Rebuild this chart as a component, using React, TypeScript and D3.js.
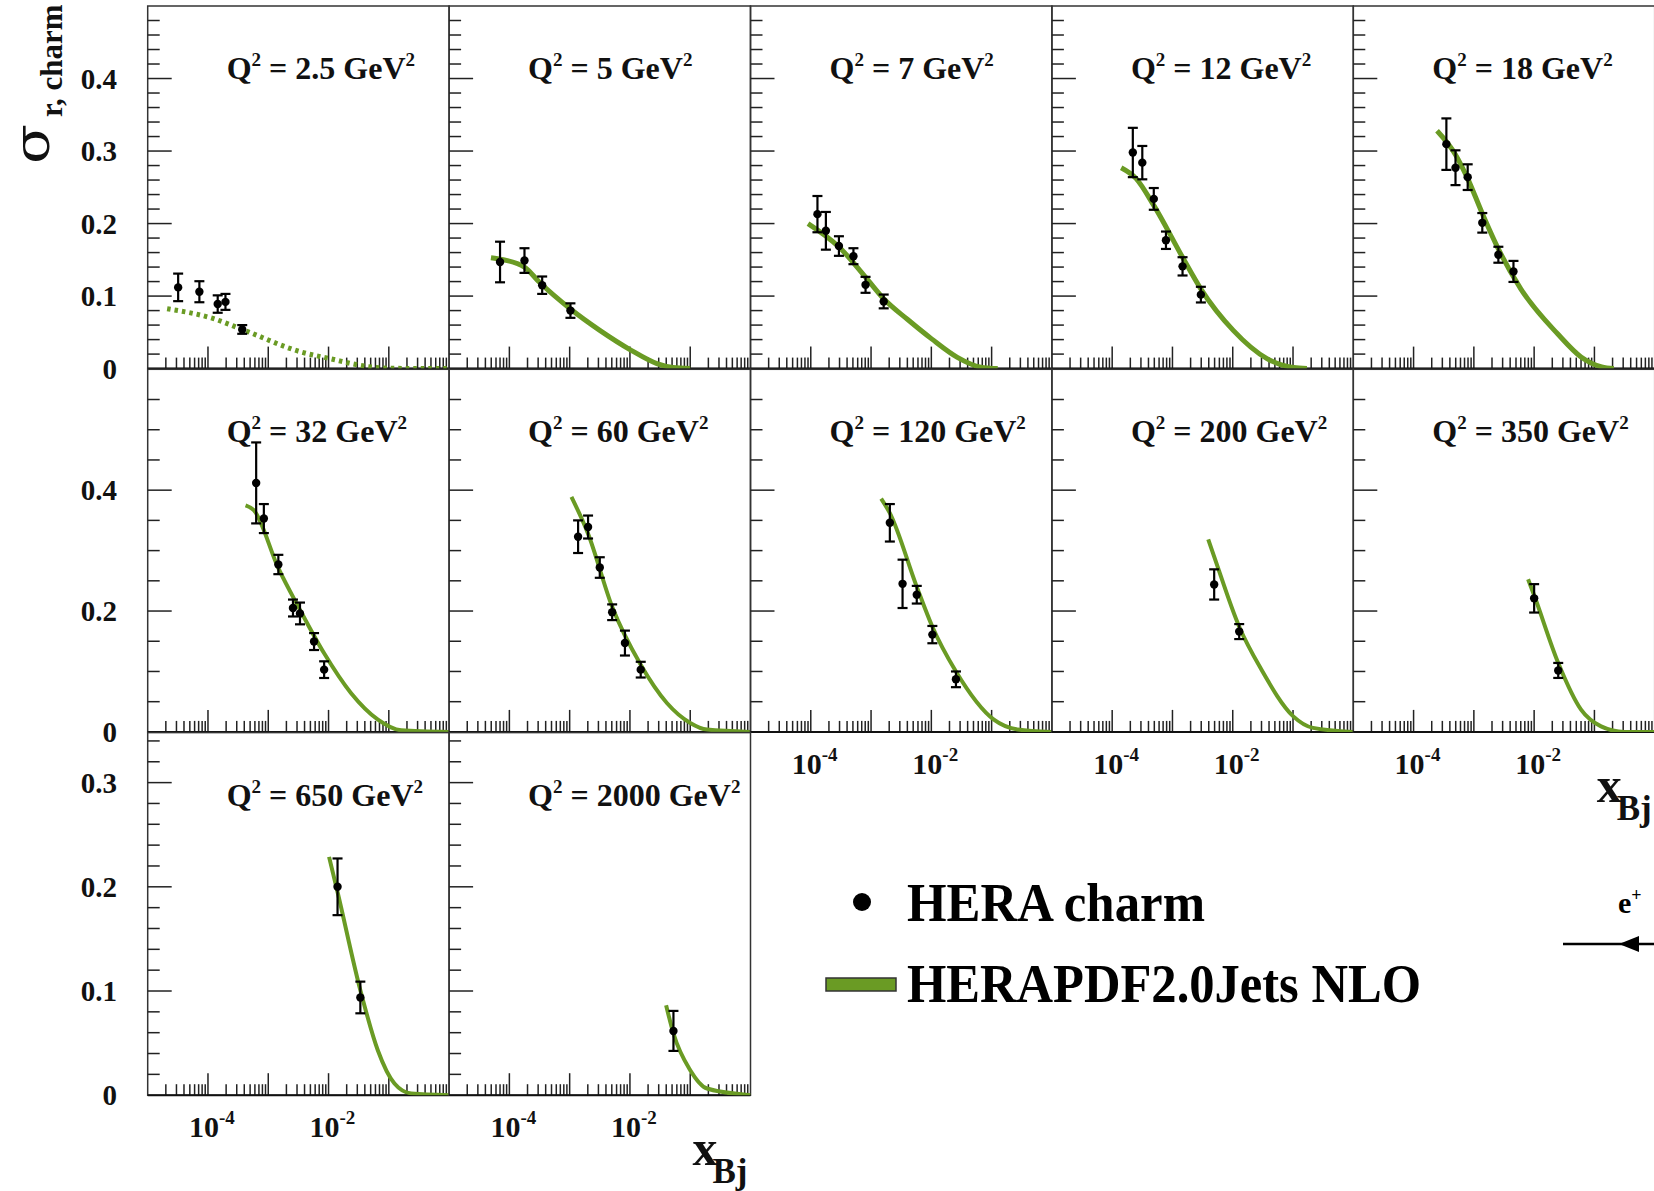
import * as d3 from "d3";
import React, { useEffect, useRef } from "react";

const W = 1654;
const H = 1191;

const q2Labels = ["2.5", "5", "7", "12", "18", "32", "60", "120", "200", "350", "650", "2000"];

// HERA charm points: [x_Bj, sigma_r, error]
const hera2p5 = [[3.2e-5, 0.112, 0.019], [7.2e-5, 0.106, 0.0145], [1.45e-4, 0.089, 0.012], [1.95e-4, 0.092, 0.011], [3.7e-4, 0.054, 0.006]];
const hera5 = [[7.0e-5, 0.147, 0.028], [1.78e-4, 0.149, 0.017], [3.5e-4, 0.115, 0.012], [1.03e-3, 0.080, 0.010]];
const hera7 = [[1.29e-4, 0.213, 0.025], [1.78e-4, 0.190, 0.026], [2.93e-4, 0.169, 0.0135], [5.1e-4, 0.155, 0.011], [8.1e-4, 0.1155, 0.011], [1.62e-3, 0.0926, 0.0095]];
const hera12 = [[2.2e-4, 0.298, 0.034], [3.16e-4, 0.284, 0.023], [4.9e-4, 0.234, 0.015], [7.8e-4, 0.177, 0.012], [1.47e-3, 0.141, 0.0126], [2.96e-3, 0.102, 0.0108]];
const hera18 = [[3.5e-4, 0.3095, 0.0355], [4.96e-4, 0.277, 0.024], [7.9e-4, 0.264, 0.0177], [1.38e-3, 0.201, 0.0135], [2.55e-3, 0.157, 0.011], [4.54e-3, 0.134, 0.0145]];
const hera32 = [[6.3e-4, 0.412, 0.067], [8.45e-4, 0.353, 0.024], [1.47e-3, 0.277, 0.016], [2.57e-3, 0.205, 0.014], [3.36e-3, 0.196, 0.018], [5.75e-3, 0.1495, 0.014], [8.45e-3, 0.103, 0.0138]];
const hera60 = [[1.38e-3, 0.323, 0.027], [2.02e-3, 0.339, 0.019], [3.16e-3, 0.272, 0.017], [5.07e-3, 0.198, 0.013], [8.26e-3, 0.147, 0.0206], [1.51e-2, 0.103, 0.013]];
const hera120 = [[2.05e-3, 0.346, 0.031], [3.33e-3, 0.245, 0.040], [5.73e-3, 0.227, 0.0146], [1.04e-2, 0.161, 0.0143], [2.56e-2, 0.087, 0.013]];
const hera200 = [[4.92e-3, 0.244, 0.025], [1.28e-2, 0.166, 0.0124]];
const hera350 = [[1.0e-2, 0.221, 0.0235], [2.51e-2, 0.1017, 0.0124]];
const hera650 = [[1.41e-2, 0.200, 0.0272], [3.37e-2, 0.0938, 0.0152]];
const hera2000 = [[5.27e-2, 0.0617, 0.0192]];

// HERAPDF2.0Jets NLO prediction: [x_Bj, sigma_r]
const nlo2p5 = [[2.1e-5, 0.0825], [1.24e-4, 0.0688], [3.7e-4, 0.054], [3.5e-3, 0.0229], [1.05e-2, 0.0138], [4.5e-2, 0.0028], [1.2e-1, 0.0004], [1, 0]];
const nlo5 = [[4.95e-5, 0.153], [7.0e-5, 0.151], [1.78e-4, 0.140], [3.16e-4, 0.119], [1.02e-3, 0.0825], [3.16e-3, 0.0527], [1.05e-2, 0.0252], [2.8e-2, 0.0069], [5.2e-2, 0.0014], [1.0e-1, 0]];
const nlo7 = [[9.0e-5, 0.200], [3.0e-4, 0.167], [8.1e-4, 0.126], [1.62e-3, 0.0963], [4.0e-3, 0.068], [1.01e-2, 0.041], [2.7e-2, 0.0155], [6.6e-2, 0.002], [1.26e-1, 0]];
const nlo12 = [[1.41e-4, 0.277], [2.5e-4, 0.262], [4.9e-4, 0.225], [1.47e-3, 0.1535], [2.95e-3, 0.110], [1.02e-2, 0.0527], [3.7e-2, 0.0138], [1.02e-1, 0.0014], [1.7e-1, 0]];
const nlo18 = [[2.45e-4, 0.328], [4.96e-4, 0.295], [7.9e-4, 0.262], [1.38e-3, 0.214], [2.55e-3, 0.165], [6.0e-3, 0.110], [2.45e-2, 0.048], [6.0e-2, 0.016], [1.32e-1, 0.0022], [2.1e-1, 0]];
const nlo32 = [[4.2e-4, 0.375], [5.75e-4, 0.367], [1.47e-3, 0.271], [3.36e-3, 0.202], [8.45e-3, 0.130], [2.35e-2, 0.0644], [6.6e-2, 0.0203], [1.6e-1, 0.0027], [1, 0]];
const nlo60 = [[1.07e-3, 0.389], [2.02e-3, 0.328], [5.07e-3, 0.207], [1.51e-2, 0.111], [4.1e-2, 0.0478], [1.0e-1, 0.0148], [1.9e-1, 0.0038], [1, 0]];
const nlo120 = [[1.47e-3, 0.386], [2.05e-3, 0.362], [5.73e-3, 0.240], [1.04e-2, 0.174], [2.56e-2, 0.100], [1.09e-1, 0.0203], [2.7e-1, 0.004], [1, 0]];
const nlo200 = [[3.92e-3, 0.3185], [4.92e-3, 0.29], [1.28e-2, 0.174], [3.0e-2, 0.1028], [1.01e-1, 0.0257], [2.15e-1, 0.0066], [1, 0]];
const nlo350 = [[7.94e-3, 0.2525], [1.0e-2, 0.226], [2.51e-2, 0.114], [6.0e-2, 0.0368], [1.29e-1, 0.0092], [3.16e-1, 0], [1, 0]];
const nlo650 = [[1.02e-2, 0.2287], [1.41e-2, 0.195], [3.37e-2, 0.1008], [6.56e-2, 0.0432], [1.24e-1, 0.0112], [2.36e-1, 0.0016], [1, 0]];
const nlo2000 = [[3.98e-2, 0.0864], [5.27e-2, 0.0592], [1.0e-1, 0.024], [1.9e-1, 0.0064], [1, 0]];

const heraSets = [hera2p5, hera5, hera7, hera12, hera18, hera32, hera60, hera120, hera200, hera350, hera650, hera2000];
const nloSets = [nlo2p5, nlo5, nlo7, nlo12, nlo18, nlo32, nlo60, nlo120, nlo200, nlo350, nlo650, nlo2000];

// per-row y axis
const rowMax = [0.5, 0.6, 0.348];
const rowMajor = [0.1, 0.2, 0.1];
const rowMinor = [0.02, 0.05, 0.02];

const xLabelTicks = [1e-4, 1e-2];
const xLabelExp = ["-4", "-2"];

const GREEN = "#6a9b24";
const FONT = "'Liberation Serif', 'Times New Roman', serif";

const CharmChart = () => {
  const ref = useRef<SVGSVGElement>(null);

  const x0 = 147.7;
  const pw = 301.4;
  const ph = 362.6;
  const rowTop = [6, 369.3, 732.6];

  useEffect(() => {
    const svg = d3.select(ref.current);
    svg.selectAll("*").remove();
    const defs = svg.append("defs");

    const panels = q2Labels.map((q2, i) => ({
      q2,
      pts: heraSets[i],
      curve: nloSets[i],
      row: Math.floor(i / 5),
      col: i % 5,
      dotted: i === 0,
      showX: i >= 7,
    }));

    panels.forEach((p, i) => {
      const left = x0 + p.col * pw;
      const right = left + pw;
      const top = rowTop[p.row];
      const bottom = top + ph;

      const x = d3.scaleLog().domain([1e-5, 1]).range([left, right]);
      const y = d3.scaleLinear().domain([0, rowMax[p.row]]).range([bottom, top]);

      defs.append("clipPath").attr("id", "clip" + i)
        .append("rect")
        .attr("x", left).attr("y", top - 4)
        .attr("width", pw).attr("height", ph + 4);

      const g = svg.append("g");

      // frame
      g.append("rect")
        .attr("x", left).attr("y", top)
        .attr("width", pw).attr("height", ph)
        .attr("fill", "none")
        .attr("stroke", "#333")
        .attr("stroke-width", 1.5);

      // y ticks
      const ymax = rowMax[p.row];
      d3.range(rowMinor[p.row], ymax - 1e-6, rowMinor[p.row]).forEach((v) => {
        const r = v / rowMajor[p.row];
        const major = Math.abs(r - Math.round(r)) < 1e-6;
        g.append("line")
          .attr("x1", left).attr("x2", left + (major ? 24 : 12))
          .attr("y1", y(v)).attr("y2", y(v))
          .attr("stroke", "#222").attr("stroke-width", 1.5);
      });

      // x ticks (log)
      for (let d = -5; d <= -1; d++) {
        for (let k = 1; k <= 9; k++) {
          const v = k * Math.pow(10, d);
          if (d === -5 && k === 1) continue;
          g.append("line")
            .attr("x1", x(v)).attr("x2", x(v))
            .attr("y1", bottom).attr("y2", bottom - (k === 1 ? 22 : 11))
            .attr("stroke", "#222").attr("stroke-width", 1.5);
        }
      }

      // bottom axis line
      g.append("line")
        .attr("x1", left).attr("x2", right)
        .attr("y1", bottom).attr("y2", bottom)
        .attr("stroke", "#111").attr("stroke-width", 2);

      // prediction curve
      const line = d3.line<number[]>()
        .x((d) => x(d[0]))
        .y((d) => y(d[1]))
        .curve(d3.curveMonotoneX);

      g.append("path")
        .datum(p.curve)
        .attr("clip-path", `url(#clip${i})`)
        .attr("d", line)
        .attr("fill", "none")
        .attr("stroke", GREEN)
        .attr("stroke-width", p.row === 0 ? 5 : 4)
        .attr("stroke-dasharray", p.dotted ? "3.5 4" : null);

      // error bars
      const eb = g.append("g").attr("stroke", "#000").attr("stroke-width", 2.2);
      p.pts.forEach((d) => {
        const cx = x(d[0]);
        const y1 = y(d[1] + d[2]);
        const y2 = y(d[1] - d[2]);
        eb.append("line").attr("x1", cx).attr("x2", cx).attr("y1", y1).attr("y2", y2);
        eb.append("line").attr("x1", cx - 5).attr("x2", cx + 5).attr("y1", y1).attr("y2", y1);
        eb.append("line").attr("x1", cx - 5).attr("x2", cx + 5).attr("y1", y2).attr("y2", y2);
      });

      g.selectAll("circle.pt")
        .data(p.pts)
        .enter()
        .append("circle")
        .attr("class", "pt")
        .attr("cx", (d) => x(d[0]))
        .attr("cy", (d) => y(d[1]))
        .attr("r", 4.2)
        .attr("fill", "#000");

      // Q2 title
      const t = g.append("text")
        .attr("x", left + 79)
        .attr("y", top + 73)
        .attr("font-family", FONT)
        .attr("font-weight", "bold")
        .attr("font-size", 32)
        .attr("fill", "#111");
      t.append("tspan").text("Q");
      t.append("tspan").attr("font-size", 19).attr("dy", -13).text("2");
      t.append("tspan").attr("dy", 13).text(` = ${p.q2} GeV`);
      t.append("tspan").attr("font-size", 19).attr("dy", -13).text("2");

      // x tick labels
      if (p.showX) {
        xLabelTicks.forEach((v, j) => {
          const lt = g.append("text")
            .attr("x", x(v) - 19)
            .attr("y", bottom + 42)
            .attr("font-family", FONT)
            .attr("font-weight", "bold")
            .attr("font-size", 30)
            .attr("fill", "#111");
          lt.append("tspan").text("10");
          lt.append("tspan").attr("font-size", 19).attr("dy", -13).text(xLabelExp[j]);
        });
      }

      // y tick labels
      if (p.col === 0) {
        d3.range(0, ymax - 1e-6, rowMajor[p.row]).forEach((v) => {
          g.append("text")
            .attr("x", 117)
            .attr("y", y(v))
            .attr("text-anchor", "end")
            .attr("dominant-baseline", "central")
            .attr("font-family", FONT)
            .attr("font-weight", "bold")
            .attr("font-size", 29)
            .attr("fill", "#111")
            .text(v === 0 ? "0" : d3.format(".1f")(v));
        });
      }
    });

    // x_Bj axis titles
    const xTitle = (right: number, bottom: number) => {
      svg.append("text")
        .attr("x", right - 58).attr("y", bottom + 70)
        .attr("font-family", FONT).attr("font-weight", "bold")
        .attr("font-size", 50).attr("fill", "#111")
        .text("x");
      svg.append("text")
        .attr("x", right - 38).attr("y", bottom + 88)
        .attr("font-family", FONT).attr("font-weight", "bold")
        .attr("font-size", 35).attr("fill", "#111")
        .text("Bj");
    };
    xTitle(x0 + 5 * pw, rowTop[1] + ph);
    xTitle(x0 + 2 * pw, rowTop[2] + ph);

    // y axis title
    svg.append("text")
      .attr("transform", "translate(49,164) rotate(-90)")
      .attr("font-family", "'DejaVu Serif', serif")
      .attr("font-size", 50).attr("fill", "#111")
      .attr("textLength", 40).attr("lengthAdjust", "spacingAndGlyphs")
      .text("σ");
    svg.append("text")
      .attr("transform", "translate(62,117) rotate(-90)")
      .attr("font-family", FONT).attr("font-weight", "bold")
      .attr("font-size", 31).attr("fill", "#111")
      .text("r, charm");

    // legend
    svg.append("circle").attr("cx", 862).attr("cy", 902).attr("r", 9).attr("fill", "#000");
    svg.append("text")
      .attr("x", 907).attr("y", 921)
      .attr("font-family", FONT).attr("font-weight", "bold")
      .attr("font-size", 54).attr("fill", "#000")
      .attr("textLength", 298).attr("lengthAdjust", "spacingAndGlyphs")
      .text("HERA charm");
    svg.append("rect")
      .attr("x", 826).attr("y", 978).attr("width", 70).attr("height", 13)
      .attr("fill", GREEN).attr("stroke", "#333").attr("stroke-width", 1.5);
    svg.append("text")
      .attr("x", 907).attr("y", 1002)
      .attr("font-family", FONT).attr("font-weight", "bold")
      .attr("font-size", 54).attr("fill", "#000")
      .attr("textLength", 514).attr("lengthAdjust", "spacingAndGlyphs")
      .text("HERAPDF2.0Jets NLO");

    // beam label
    const e = svg.append("text")
      .attr("x", 1618).attr("y", 913)
      .attr("font-family", FONT).attr("font-weight", "bold")
      .attr("font-size", 30).attr("fill", "#000");
    e.append("tspan").text("e");
    e.append("tspan").attr("font-size", 18).attr("dy", -12).text("+");
    svg.append("line")
      .attr("x1", 1563).attr("x2", 1654).attr("y1", 944).attr("y2", 944)
      .attr("stroke", "#000").attr("stroke-width", 2.5);
    svg.append("path")
      .attr("d", "M1619,944 L1639,936 L1639,952 Z")
      .attr("fill", "#000");
  }, []);

  return (
    <svg
      ref={ref}
      width={W}
      height={H}
      style={{ position: "absolute", left: 0, top: 0, background: "#fff" }}
    />
  );
};

export default function App() {
  return <CharmChart />;
}
